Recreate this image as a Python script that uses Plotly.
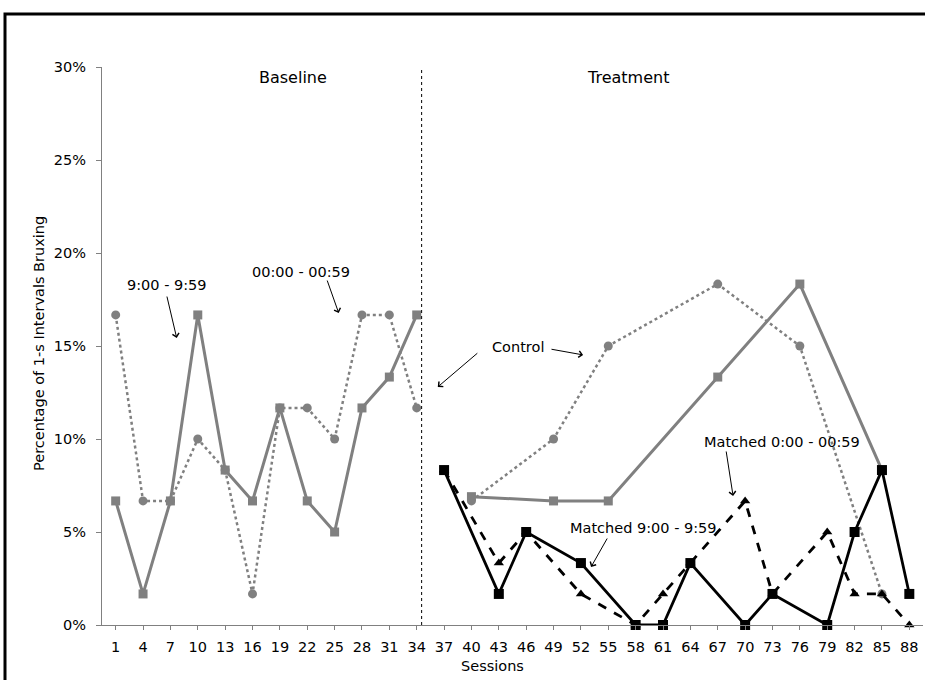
import plotly.graph_objects as go

sessions = ["1", "4", "7", "10", "13", "16", "19", "22", "25", "28", "31", "34", "37", "40", "43",
            "46", "49", "52", "55", "58", "61", "64", "67", "70", "73", "76", "79", "82", "85", "88"]
N = None
# Baseline (gray)
baseline_9 = [6.67, 1.67, 6.67, 16.67, 8.33, 6.67, 11.67, 6.67, 5.0, 11.67, 13.33, 16.67,
              N, N, N, N, N, N, N, N, N, N, N, N, N, N, N, N, N, N]
baseline_0 = [16.67, 6.67, 6.67, 10.0, 8.33, 1.67, 11.67, 11.67, 10.0, 16.67, 16.67, 11.67,
              N, N, N, N, N, N, N, N, N, N, N, N, N, N, N, N, N, N]
# Treatment control (gray)
control_9 = [N, N, N, N, N, N, N, N, N, N, N, N,
             N, 6.9, N, N, 6.67, N, 6.67, N, N, N, 13.33, N, N, 18.33, N, N, 8.33, N]
control_0 = [N, N, N, N, N, N, N, N, N, N, N, N,
             N, 6.67, N, N, 10.0, N, 15.0, N, N, N, 18.33, N, N, 15.0, N, N, 1.67, N]
# Treatment matched (black)
matched_9 = [N, N, N, N, N, N, N, N, N, N, N, N,
             8.33, N, 1.67, 5.0, N, 3.33, N, 0.0, 0.0, 3.33, N, 0.0, 1.67, N, 0.0, 5.0, 8.33, 1.67]
matched_0 = [N, N, N, N, N, N, N, N, N, N, N, N,
             8.33, N, 3.33, 5.0, N, 1.67, N, 0.0, 1.67, 3.33, N, 6.67, 1.67, N, 5.0, 1.67, 1.67, 0.0]

y_ticks = [0, 5, 10, 15, 20, 25, 30]
y_ticktext = ["0%", "5%", "10%", "15%", "20%", "25%", "30%"]

GRAY = "#808080"
BLACK = "#000000"
FONT = "DejaVu Sans"

fig = go.Figure()

def add(y, color, dash, symbol, size, width):
    fig.add_trace(go.Scatter(
        x=sessions, y=y, mode="lines+markers", connectgaps=True, cliponaxis=False,
        line=dict(color=color, width=width, dash=dash),
        marker=dict(color=color, symbol=symbol, size=size),
        showlegend=False, hoverinfo="skip"))

add(baseline_0, GRAY, "dot", "circle", 9, 2.5)
add(baseline_9, GRAY, "solid", "square", 9, 3)
add(control_0, GRAY, "dot", "circle", 9, 2.5)
add(control_9, GRAY, "solid", "square", 9, 3)
add(matched_0, BLACK, "dash", "triangle-up", 9, 2.8)
add(matched_9, BLACK, "solid", "square", 10, 2.8)

# phase line
fig.add_shape(type="line", xref="x", yref="y", x0=11.18, x1=11.18, y0=0, y1=29.9,
              line=dict(color=BLACK, width=1, dash="dot"))

# outer frame
fig.add_shape(type="rect", xref="paper", yref="paper",
              x0=(5 - 102) / 821, x1=1.02, y0=-0.15, y1=(625 - 14) / 558,
              line=dict(color=BLACK, width=3))

def label(text, x, y, size=14.5):
    fig.add_annotation(text=text, x=x, y=y, xref="x", yref="y", showarrow=False,
                       xanchor="center", yanchor="middle",
                       font=dict(family=FONT, size=size, color=BLACK))

def arrow(x_tail, y_tail, x_head, y_head):
    fig.add_annotation(text="", x=x_head, y=y_head, ax=x_tail, ay=y_tail,
                       xref="x", yref="y", axref="x", ayref="y",
                       showarrow=True, arrowhead=4, arrowsize=1.3, arrowwidth=1,
                       arrowcolor=BLACK, standoff=0, startstandoff=0)

label("Baseline", 6.47, 29.45, 16)
label("Treatment", 18.72, 29.45, 16)
label("9:00 - 9:59", 1.86, 18.28)
arrow(1.86, 17.74, 2.23, 15.43)
label("00:00 - 00:59", 6.76, 18.98)
arrow(7.71, 18.6, 8.15, 16.77)
label("Control", 14.7, 14.95)
arrow(13.27, 14.68, 11.77, 12.8)
arrow(15.87, 14.84, 17.08, 14.52)
label("Matched 9:00 - 9:59", 19.27, 5.22)
arrow(17.99, 4.73, 17.37, 3.12)
label("Matched 0:00 - 00:59", 24.35, 9.84)
arrow(22.3, 9.41, 22.56, 6.94)

# axis titles
fig.add_annotation(text="Percentage of 1-s Intervals Bruxing", textangle=-90,
                   xref="paper", yref="paper", x=(39 - 102) / 821, y=(625 - 344) / 558,
                   xanchor="center", yanchor="middle",
                   showarrow=False, font=dict(family=FONT, size=14.5, color=BLACK))
fig.add_annotation(text="Sessions", xref="paper", yref="paper",
                   x=(492 - 102) / 821, y=(625 - 666) / 558,
                   xanchor="center", yanchor="middle",
                   showarrow=False, font=dict(family=FONT, size=14.5, color=BLACK))

fig.update_layout(
    width=925, height=680,
    margin=dict(l=102, r=2, t=67, b=55),
    paper_bgcolor="white", plot_bgcolor="white",
    font=dict(family=FONT, size=14.5, color=BLACK),
    xaxis=dict(type="category", range=[-0.5, 29.5], showgrid=False, zeroline=False,
               showline=True, linecolor=GRAY, linewidth=1,
               ticks="outside", ticklen=4, tickcolor=GRAY, ticklabelstandoff=5,
               tickfont=dict(family=FONT, size=14.5, color=BLACK)),
    yaxis=dict(range=[0, 30], tickvals=y_ticks, ticktext=y_ticktext, showgrid=False,
               zeroline=False, showline=True, linecolor=GRAY, linewidth=1,
               ticks="outside", ticklen=5, tickcolor=GRAY, ticklabelstandoff=7,
               tickfont=dict(family=FONT, size=14.5, color=BLACK)),
)

fig.write_html("out.html", config={"displayModeBar": False},
               post_script="document.body.style.margin='0';document.body.style.overflow='hidden';")
